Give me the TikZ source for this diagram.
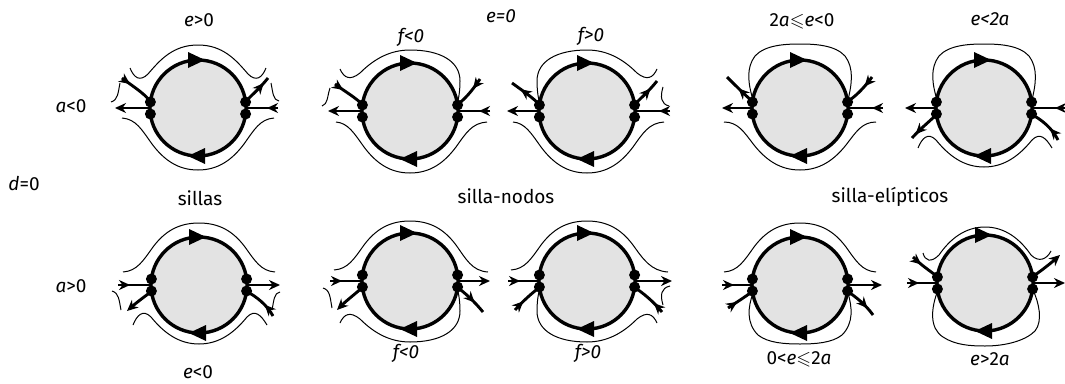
\documentclass[tikz,border=0pt]{standalone}
\usepackage{fontspec}
\usepackage{amssymb}
\setmainfont{Fira Sans}
\usetikzlibrary{arrows.meta,decorations.markings}

\newcommand{\disco}{%
  \fill[fondo] (0,0) circle (48pt);
  \draw[borde] (0,0) circle (48pt);
  \fill (-10,-56) -- (7,-48) -- (-10,-40) -- cycle;
  \fill (7,40) -- (-10,48) -- (7,56) -- cycle;
  \fill (-47.6,-6) circle (5.5pt) (-47.6,6) circle (5.5pt)
        (47.6,-6) circle (5.5pt) (47.6,6) circle (5.5pt);
}

\begin{document}
\begin{tikzpicture}[
    x=1pt, y=-1pt,
    etq/.style={font=\fontsize{19}{21}\selectfont, inner sep=0pt},
    fondo/.style={fill=black!11},
    borde/.style={line width=3.4pt},
    orb/.style={line width=2.9pt},
    sep/.style={line width=1pt},
    fin/.style={-{Stealth[length=11pt,width=10pt]}},
    med/.style={postaction={decorate},
                decoration={markings, mark=at position #1 with {\arrow{Stealth[length=11pt,width=10pt]}}}},
  ]
    \useasboundingbox (0,0) rectangle (1065,383);

    \node[etq] (ea) at (199,20) {\textit{e}>0};
    \node[etq] (eb) at (501,16) {\textit{e=0}};
    \node[etq] (fa) at (411,37) {\textit{f<0}};
    \node[etq] (fb) at (591,36) {\textit{f>0}};
    \node[etq] (ec) at (802,21) {2\textit{a}$\leqslant$\textit{e}<0};
    \node[etq] (ed) at (990,19) {\textit{e<2a}};
    \node[etq] (an) at (71,106) {\textit{a}<0};
    \node[etq] (d0) at (24,184) {\textit{d}=0};
    \node[etq] (ap) at (71,286) {\textit{a}>0};
    \node[etq] (s1) at (200,198) {sillas};
    \node[etq] (s2) at (506,196) {silla-nodos};
    \node[etq] (s3) at (890,197) {silla-elípticos};
    \node[etq] (ee) at (198,372) {\textit{e}<0};
    \node[etq] (fc) at (406,353) {\textit{f<0}};
    \node[etq] (fd) at (588,353) {\textit{f>0}};
    \node[etq] (ef) at (799,359) {0<\textit{e}$\leqslant$2\textit{a}};
    \node[etq] (eg) at (990,359) {\textit{e}>2\textit{a}};

    \begin{scope}[shift={(198,108)}]
      \draw[sep] (-68,-40) .. controls (-64,-30) and (-58,-26) .. (-50,-34) .. controls (-38,-48) and (-25,-63) .. (0,-63) .. controls (25,-63) and (38,-48) .. (50,-34) .. controls (58,-26) and (64,-30) .. (68,-40);
      \draw[sep] (-78,-25) .. controls (-80,-15) and (-80,-8) .. (-87,-6);
      \draw[sep] (73,-25) .. controls (75,-15) and (75,-8) .. (81,-7);
      \draw[sep] (-76,10) .. controls (-62,11) and (-56,22) .. (-46,36) .. controls (-34,52) and (-20,62) .. (0,62) .. controls (20,62) and (34,52) .. (46,36) .. controls (56,22) and (62,11) .. (76,10);
      \draw[orb, fin] (-48,0) -- (-83,0);
      \draw[orb, med=11pt] (80,0) -- (48,0);
      \draw[orb, med=10pt] (-76,-30) .. controls (-66,-22) and (-55,-16) .. (-47,-6);
      \draw[orb, med=0.8] (47,-6) .. controls (55,-14) and (62,-20) .. (70,-30);
      \disco
    \end{scope}

    \begin{scope}[shift={(410,111)}]
      \draw[sep] (-70,-42) .. controls (-66,-33) and (-60,-30) .. (-50,-38) .. controls (-36,-52) and (-20,-61) .. (0,-61) .. controls (30,-61) and (50,-50) .. (50,-30) .. controls (50,-18) and (48,-10) .. (47,-6);
      \draw[sep] (-80,-23) .. controls (-83,-14) and (-82,-7) .. (-88,-5);
      \draw[sep] (-74,11) .. controls (-62,12) and (-56,22) .. (-46,36) .. controls (-34,52) and (-20,62) .. (0,62) .. controls (20,62) and (34,52) .. (46,36) .. controls (56,22) and (62,12) .. (77,11);
      \draw[orb, fin] (-48,0) -- (-82,0);
      \draw[orb, med=11pt] (80,0) -- (48,0);
      \draw[orb, med=10pt] (-75,-27) .. controls (-66,-20) and (-55,-14) .. (-47,-6);
      \draw[orb, med=12pt] (70,-32) .. controls (62,-20) and (55,-12) .. (47,-6);
      \disco
    \end{scope}

    \begin{scope}[shift={(587,111)}]
      \draw[sep] (-47,-6) .. controls (-48,-10) and (-50,-18) .. (-50,-30) .. controls (-50,-50) and (-30,-61) .. (0,-61) .. controls (20,-61) and (36,-52) .. (50,-38) .. controls (60,-30) and (66,-33) .. (70,-42);
      \draw[sep] (76,-24) .. controls (73,-14) and (74,-7) .. (82,-5);
      \draw[sep] (-74,11) .. controls (-62,12) and (-56,22) .. (-46,36) .. controls (-34,52) and (-20,62) .. (0,62) .. controls (20,62) and (34,52) .. (46,36) .. controls (56,22) and (62,12) .. (77,11);
      \draw[orb, fin] (-48,0) -- (-80,0);
      \draw[orb, med=11pt] (83,0) -- (48,0);
      \draw[orb, med=0.7] (-47,-6) .. controls (-55,-14) and (-64,-20) .. (-75,-28);
      \draw[orb, med=0.7] (47,-6) .. controls (55,-14) and (62,-20) .. (70,-30);
      \disco
    \end{scope}

    \begin{scope}[shift={(800,108)}]
      \draw[sep] (-47,-8) .. controls (-52,-25) and (-54,-40) .. (-45,-52) .. controls (-35,-63) and (-15,-64) .. (0,-64) .. controls (15,-64) and (35,-63) .. (45,-52) .. controls (54,-40) and (52,-25) .. (48,-8);
      \draw[sep] (-76,14) .. controls (-62,14) and (-56,24) .. (-46,37) .. controls (-34,52) and (-20,62) .. (0,62) .. controls (20,62) and (34,52) .. (46,37) .. controls (56,24) and (62,14) .. (76,14);
      \draw[orb, fin] (-48,0) -- (-78,0);
      \draw[orb, med=11pt] (83,0) -- (48,0);
      \draw[orb, med=0.55] (-47,-6) .. controls (-56,-14) and (-64,-22) .. (-73,-31);
      \draw[orb, med=12pt] (72,-31) .. controls (64,-20) and (56,-12) .. (47,-6);
      \disco
    \end{scope}

    \begin{scope}[shift={(984,108)}]
      \draw[sep] (-47,-8) .. controls (-52,-25) and (-54,-40) .. (-45,-52) .. controls (-35,-63) and (-15,-64) .. (0,-64) .. controls (15,-64) and (35,-63) .. (45,-52) .. controls (54,-40) and (52,-25) .. (48,-8);
      \draw[sep] (-66,40) .. controls (-62,30) and (-56,24) .. (-48,32) .. controls (-35,48) and (-20,59) .. (0,59) .. controls (20,59) and (35,48) .. (48,32) .. controls (56,24) and (62,30) .. (68,40);
      \draw[orb, fin] (-48,0) -- (-79,0);
      \draw[orb, med=11pt] (82,0) -- (48,0);
      \draw[orb, med=0.85] (-47,6) .. controls (-55,14) and (-63,20) .. (-72,30);
      \draw[orb, med=14pt] (74,32) .. controls (68,20) and (58,12) .. (47,6);
      \disco
    \end{scope}

    \begin{scope}[shift={(199,285)}]
      \draw[sep] (-76,-13) .. controls (-62,-14) and (-56,-24) .. (-46,-38) .. controls (-34,-54) and (-20,-62) .. (0,-62) .. controls (20,-62) and (34,-54) .. (46,-38) .. controls (56,-24) and (62,-14) .. (76,-13);
      \draw[sep] (-78,25) .. controls (-80,15) and (-80,8) .. (-87,6);
      \draw[sep] (73,25) .. controls (75,15) and (75,8) .. (81,7);
      \draw[sep] (-66,40) .. controls (-62,30) and (-56,24) .. (-48,32) .. controls (-35,48) and (-20,59) .. (0,59) .. controls (20,59) and (35,48) .. (48,32) .. controls (56,24) and (62,30) .. (68,40);
      \draw[orb, med=12pt] (-81,0) -- (-48,0);
      \draw[orb, fin] (48,0) -- (81,0);
      \draw[orb, fin] (-47,6) .. controls (-55,12) and (-63,18) .. (-72,26);
      \draw[orb, med=14pt] (74,31) .. controls (68,20) and (58,12) .. (47,6);
      \disco
    \end{scope}

    \begin{scope}[shift={(410,281)}]
      \draw[sep] (-76,-11) .. controls (-62,-12) and (-56,-22) .. (-46,-36) .. controls (-34,-52) and (-20,-60) .. (0,-60) .. controls (20,-60) and (34,-52) .. (46,-36) .. controls (56,-22) and (62,-10) .. (78,-9);
      \draw[sep] (-78,27) .. controls (-80,16) and (-80,9) .. (-87,7);
      \draw[sep] (-70,42) .. controls (-66,33) and (-60,30) .. (-50,38) .. controls (-36,52) and (-20,61) .. (0,61) .. controls (30,61) and (50,50) .. (50,30) .. controls (50,18) and (48,10) .. (47,6);
      \draw[orb, med=12pt] (-80,0) -- (-48,0);
      \draw[orb, fin] (48,0) -- (80,0);
      \draw[orb, fin] (-47,6) .. controls (-55,13) and (-64,20) .. (-73,29);
      \draw[orb, med=0.65] (47,6) .. controls (55,12) and (64,20) .. (73,31);
      \disco
    \end{scope}

    \begin{scope}[shift={(587,281)}]
      \draw[sep] (-76,-11) .. controls (-62,-12) and (-56,-22) .. (-46,-36) .. controls (-34,-52) and (-20,-60) .. (0,-60) .. controls (20,-60) and (34,-52) .. (46,-36) .. controls (56,-22) and (64,-10) .. (81,-9);
      \draw[sep] (76,24) .. controls (73,14) and (74,7) .. (83,5);
      \draw[sep] (-47,6) .. controls (-48,10) and (-50,18) .. (-50,30) .. controls (-50,50) and (-30,61) .. (0,61) .. controls (20,61) and (36,52) .. (50,38) .. controls (60,30) and (66,33) .. (70,42);
      \draw[orb, med=12pt] (-79,0) -- (-48,0);
      \draw[orb, fin] (48,0) -- (85,0);
      \draw[orb, med=12pt] (-72,29) .. controls (-64,20) and (-55,12) .. (-47,6);
      \draw[orb, med=12pt] (75,31) .. controls (66,20) and (56,12) .. (47,6);
      \disco
    \end{scope}

    \begin{scope}[shift={(800,285)}]
      \draw[sep] (-76,-13) .. controls (-62,-14) and (-56,-24) .. (-46,-38) .. controls (-34,-54) and (-20,-62) .. (0,-62) .. controls (20,-62) and (34,-54) .. (46,-38) .. controls (56,-24) and (62,-14) .. (76,-13);
      \draw[sep] (-47,8) .. controls (-52,22) and (-54,38) .. (-42,50) .. controls (-32,58) and (-15,59) .. (0,59) .. controls (15,59) and (32,58) .. (42,50) .. controls (54,38) and (52,22) .. (48,8);
      \draw[orb, med=12pt] (-78,0) -- (-48,0);
      \draw[orb, fin] (48,0) -- (82,0);
      \draw[orb, med=11pt] (-72,23) .. controls (-63,17) and (-55,12) .. (-47,6);
      \draw[orb, med=0.75] (47,6) .. controls (56,12) and (66,20) .. (73,30);
      \disco
    \end{scope}

    \begin{scope}[shift={(985,283)}]
      \draw[sep] (-62,-30) .. controls (-60,-22) and (-54,-20) .. (-46,-28) .. controls (-35,-44) and (-20,-56) .. (0,-56) .. controls (20,-56) and (35,-44) .. (46,-28) .. controls (54,-20) and (62,-24) .. (66,-32);
      \draw[sep] (-47,7) .. controls (-54,25) and (-56,45) .. (-42,54) .. controls (-30,62) and (-15,63) .. (0,63) .. controls (20,63) and (40,58) .. (50,48) .. controls (58,38) and (54,20) .. (48,7);
      \draw[orb, med=12pt] (-78,0) -- (-48,0);
      \draw[orb, fin] (48,0) -- (80,0);
      \draw[orb, med=11pt] (-72,-26) .. controls (-64,-18) and (-55,-12) .. (-47,-6);
      \draw[orb, fin] (47,-6) .. controls (56,-12) and (66,-20) .. (75,-28);
      \disco
    \end{scope}
  \end{tikzpicture}
\end{document}
